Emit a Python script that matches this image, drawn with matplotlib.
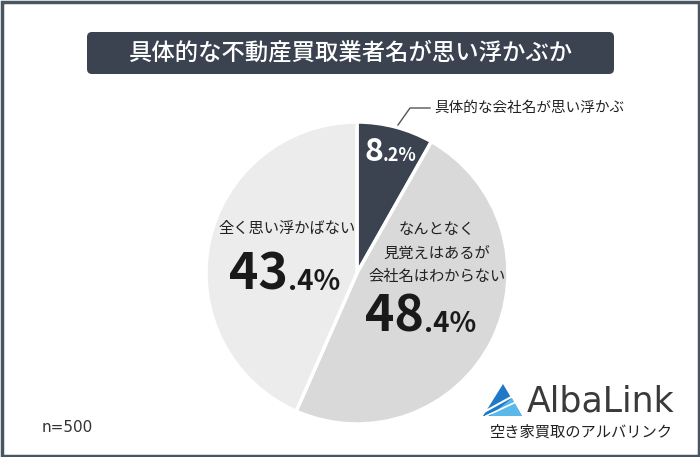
import numpy as np
import matplotlib.pyplot as plt
from matplotlib.patches import FancyBboxPatch, Rectangle, Polygon

plt.rcParams['font.family'] = ['Noto Sans CJK JP', 'DejaVu Sans']

title = "具体的な不動産買取業者名が思い浮かぶか"
labels = ["具体的な会社名が思い浮かぶ", "なんとなく\n見覚えはあるが\n会社名はわからない", "全く思い浮かばない"]
shares = [8.2, 48.4, 43.4]
colors = ["#3b4350", "#d9d9d9", "#ececec"]
n_label = "n=500"

W, H = 700, 457
fig = plt.figure(figsize=(W / 100, H / 100), dpi=100)

# pie
cx, cy, r = 357, 273, 151
ax = fig.add_axes([(cx - r) / W, (H - cy - r) / H, 2 * r / W, 2 * r / H])
ax.pie(shares, colors=colors, startangle=90, counterclock=False,
       wedgeprops=dict(edgecolor="white", linewidth=2.5))
ax.set_xlim(-1, 1)
ax.set_ylim(-1, 1)
ax.axis('off')

# overlay in pixel coords for texts and decorations
bg = fig.add_axes([0, 0, 1, 1])
bg.set_xlim(0, W)
bg.set_ylim(H, 0)
bg.axis('off')

# frame
bg.add_patch(Rectangle((1.5, 1.5), W - 3, H - 3, fill=False, ec="#4a5562", lw=2.5))

# title box
bg.add_patch(FancyBboxPatch((87, 32), 527, 42, boxstyle="round,pad=0,rounding_size=5",
                            fc="#3b4350", ec="none"))
bg.text(351, 53, title, color="white", fontsize=16.8, fontweight='medium',
        ha='center', va='center')


def pct(x, y, value, big, small, color):
    whole, frac = f"{value:.1f}".split(".")
    bg.text(x, y, whole, fontsize=big, fontweight='bold', color=color,
            ha='right', va='baseline')
    bg.text(x, y, "." + frac + "%", fontsize=small, fontweight='bold', color=color,
            ha='left', va='baseline')


# 8.2%
pct(383, 161, shares[0], 23, 13, "white")
bg.plot([398, 410, 430], [125, 108, 108], color="#555555", lw=1)
bg.text(434, 108, labels[0], fontsize=10.5, color="#222222", ha='left', va='center')

# 48.4%
bg.text(437, 253, labels[1], fontsize=11, color="#222222", ha='center', va='center',
        linespacing=1.5)
pct(424, 332, shares[1], 36, 20, "#1a1a1a")

# 43.4%
bg.text(287, 228, labels[2], fontsize=11, color="#222222", ha='center', va='center')
pct(288, 290, shares[2], 36, 20, "#1a1a1a")

bg.text(42, 427, n_label, fontsize=11, color="#333333", ha='left', va='center',
        family='DejaVu Sans')

# logo
bg.add_patch(Rectangle((478, 380), 200, 68, fc="white", ec="none"))
bg.add_patch(Polygon([(483, 416), (503, 384), (522, 416)], closed=True, fc="#1f78c8", ec="none"))
bg.add_patch(Polygon([(490, 416), (512, 398), (522, 416)], closed=True, fc="#5bb8ea", ec="none"))
bg.plot([484, 513], [412, 396], color="white", lw=1.5)
bg.plot([486, 516], [416, 402], color="white", lw=1.2)
bg.text(527, 401, "AlbaLink", fontsize=25, color="#3a3a3a", ha='left', va='center',
        family='DejaVu Sans')
bg.text(581, 432, "空き家買取のアルバリンク", fontsize=11, color="#222222", ha='center', va='center')

fig.savefig("out.png", dpi=100)
